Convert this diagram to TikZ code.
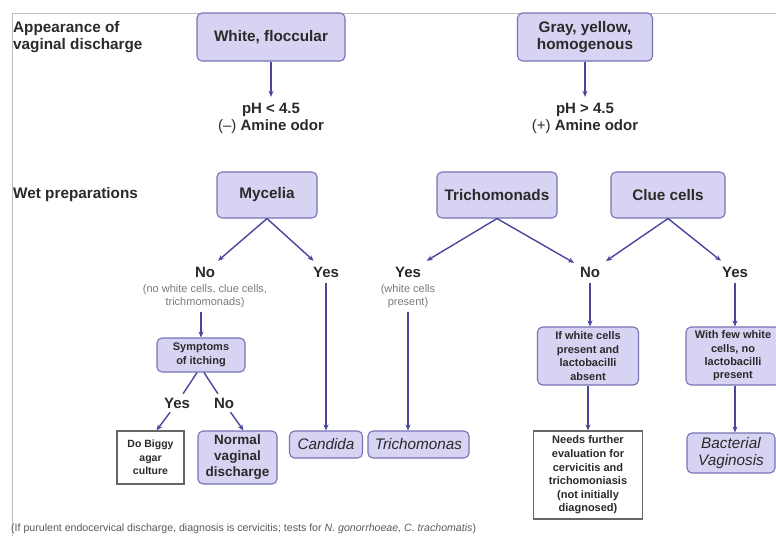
\documentclass[tikz,border=0pt]{standalone}
\usepackage{fontspec}
\setmainfont{Liberation Sans}
\usetikzlibrary{arrows.meta}
\definecolor{boxfill}{HTML}{D6D4F2}
\definecolor{boxline}{HTML}{7672B6}
\definecolor{arrowblue}{HTML}{4A469E}
\definecolor{inktext}{HTML}{2A2A2A}
\definecolor{notegray}{HTML}{7A7A7A}
\definecolor{framegray}{HTML}{BDBDBD}
\tikzset{
  box/.style={draw=boxline, fill=boxfill, rounded corners=5pt, line width=1.1pt,
    align=center, inner sep=0pt, text=inktext},
  bigbox/.style={box, font=\fontsize{15.3}{17.8}\selectfont\bfseries},
  smallbox/.style={box, font=\fontsize{11}{13.4}\selectfont\bfseries},
  dxbox/.style={box, font=\fontsize{15.3}{17.8}\selectfont\itshape},
  plainbox/.style={draw=gray!80!black, fill=white, line width=1.1pt, align=center,
    inner sep=0pt, text=inktext, font=\fontsize{10.5}{13.4}\selectfont\bfseries},
  lbl/.style={align=center, inner sep=1pt, outer sep=5pt, text=inktext,
    font=\fontsize{15}{17}\selectfont\bfseries},
  note/.style={align=center, inner sep=1pt, outer sep=3pt, text=notegray,
    font=\fontsize{11}{13}\selectfont},
  head/.style={anchor=west, align=left, inner sep=0pt, text=inktext,
    font=\fontsize{15.3}{16.5}\selectfont\bfseries},
  arr/.style={draw=arrowblue, line width=1.4pt, -{Stealth[length=6pt,width=5pt]}},
  link/.style={draw=arrowblue, line width=1.4pt},
}
\begin{document}
\begin{tikzpicture}[x=1pt,y=-1pt]
  \useasboundingbox (0,0) rectangle (776,536);
  \draw[framegray, line width=0.8pt] (12,536) -- (12,13) -- (776,13);

  % appearance of discharge
  \node[head] (appear) at (13,37) {Appearance of\\vaginal discharge};
  \node[bigbox, minimum width=148pt, minimum height=48pt] (white) at (271,37) {White, floccular};
  \node[bigbox, minimum width=135pt, minimum height=48pt] (gray) at (585,37) {Gray, yellow,\\homogenous};
  \node[lbl] (phlow) at (271,118) {pH < 4.5\\{\mdseries(--)} Amine odor};
  \node[lbl] (phhigh) at (585,118) {pH > 4.5\\{\mdseries(+)} Amine odor};
  \draw[arr] (white) -- (phlow);
  \draw[arr] (gray) -- (phhigh);

  % wet preparations
  \node[head] (wet) at (13,195) {Wet preparations};
  \node[bigbox, minimum width=100pt, minimum height=46pt] (myc) at (267,195) {Mycelia};
  \node[bigbox, minimum width=120pt, minimum height=46pt] (trich) at (497,195) {Trichomonads};
  \node[bigbox, minimum width=114pt, minimum height=46pt] (clue) at (668,195) {Clue cells};

  \node[lbl] (mycno) at (205,272) {No};
  \node[note] (mycnonote) at (205,296) {(no white cells, clue cells,\\trichmomonads)};
  \node[lbl] (mycyes) at (326,272) {Yes};
  \node[lbl] (tryes) at (408,272) {Yes};
  \node[note] (tryesnote) at (408,296) {(white cells\\present)};
  \node[lbl] (cellno) at (590,272) {No};
  \node[lbl] (clueyes) at (735,272) {Yes};

  \draw[arr] (myc.south) -- (mycno);
  \draw[arr] (myc.south) -- (mycyes);
  \draw[arr] (trich.south) -- (tryes);
  \draw[arr] (trich.south) -- (cellno);
  \draw[arr] (clue.south) -- (cellno);
  \draw[arr] (clue.south) -- (clueyes);

  % second level
  \node[smallbox, minimum width=88pt, minimum height=34pt] (sym) at (201,355) {Symptoms\\of itching};
  \node[smallbox, minimum width=101pt, minimum height=58pt] (ifwhite) at (588,356) {If white cells\\present and\\lactobacilli\\absent};
  \node[smallbox, minimum width=94pt, minimum height=58pt] (withfew) at (733,356) {With few white\\cells, no\\lactobacilli\\present};
  \draw[arr] (mycnonote.south -| sym.north) -- (sym.north);
  \draw[arr] (cellno) -- (cellno |- ifwhite.north);
  \draw[arr] (clueyes) -- (clueyes |- withfew.north);

  \node[lbl, outer sep=3pt] (symyes) at (177,403) {Yes};
  \node[lbl, outer sep=3pt] (symno) at (224,403) {No};
  \draw[link] ([xshift=-4pt]sym.south) -- (symyes);
  \draw[link] ([xshift=3pt]sym.south) -- (symno);

  % outcomes
  \node[plainbox, minimum width=67pt, minimum height=53pt] (biggy) at (150.5,457.5) {Do Biggy\\agar\\culture};
  \node[box, font=\fontsize{13.5}{16}\selectfont\bfseries, minimum width=79pt, minimum height=53pt] (normal) at (237.5,457.5) {Normal\\vaginal\\discharge};
  \node[dxbox, minimum width=73pt, minimum height=27pt] (candida) at (326,444.5) {Candida};
  \node[dxbox, minimum width=101pt, minimum height=27pt] (trichbox) at (418.5,444.5) {Trichomonas};
  \node[plainbox, font=\fontsize{11}{13.6}\selectfont\bfseries, minimum width=109pt, minimum height=88pt] (needs) at (588,475) {Needs further\\evaluation for\\cervicitis and\\trichomoniasis\\(not initially\\diagnosed)};
  \node[dxbox, minimum width=88pt, minimum height=40pt] (bv) at (731,453) {Bacterial\\Vaginosis};

  \draw[arr] (symyes) -- ([xshift=6pt]biggy.north);
  \draw[arr] (symno) -- ([xshift=6pt]normal.north);
  \draw[arr] (mycyes) -- (candida);
  \draw[arr] (tryesnote.south) -- (tryesnote.south |- trichbox.north);
  \draw[arr] (ifwhite.south) -- (needs.north);
  \draw[arr] (clueyes |- withfew.south) -- (clueyes |- bv.north);

  \node[anchor=west, inner sep=0pt, text=black!65, font=\fontsize{10.6}{12}\selectfont] (foot) at (11,529)
    {(If purulent endocervical discharge, diagnosis is cervicitis; tests for \textit{N. gonorrhoeae, C. trachomatis})};
\end{tikzpicture}
\end{document}
